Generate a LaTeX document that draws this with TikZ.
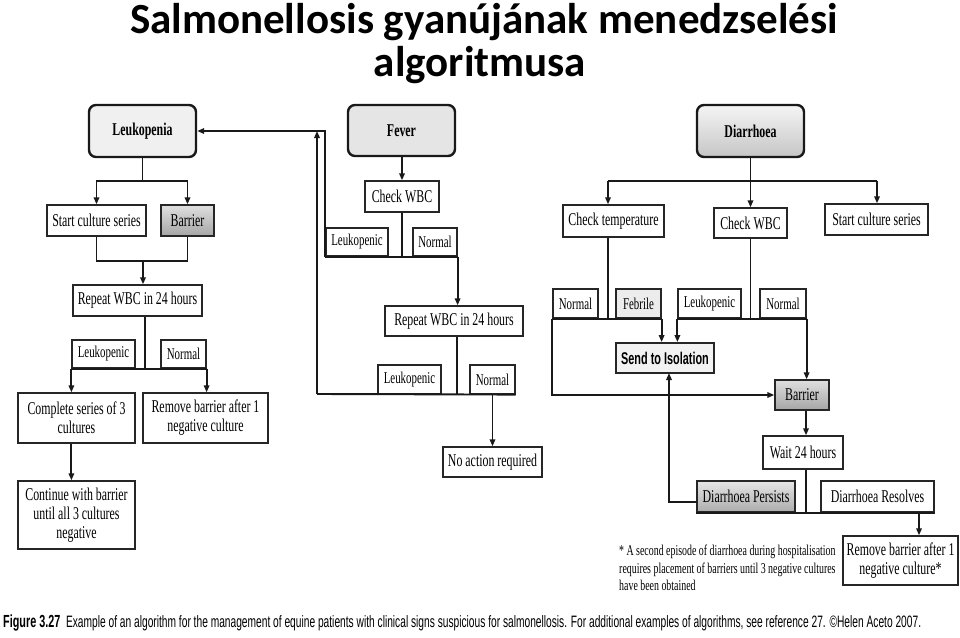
\documentclass[tikz,border=0pt]{standalone}
\usepackage{fontspec}
\usepackage{graphicx}
\usetikzlibrary{arrows.meta}
\newfontfamily\cond[FakeStretch=0.66]{Liberation Serif}
\newfontfamily\condsans[FakeStretch=0.64]{Liberation Sans}
\newfontfamily\capfont[FakeStretch=0.7]{Liberation Sans}
\newfontfamily\titlefont{Carlito}
\tikzset{
  box/.style={draw=black!85, line width=1.4, fill=white, inner sep=0, align=center,
    font=\cond\fontsize{18}{19}\selectfont},
  lbl/.style={draw=black!85, line width=1.2, fill=white, inner sep=0,
    font=\cond\fontsize{16.5}{17}\selectfont},
  hdr/.style={draw=black!90, line width=2.4, rounded corners=7, inner sep=0,
    font=\cond\bfseries\fontsize{18}{19}\selectfont},
  con/.style={draw=black!90, line width=1.9},
  arr/.style={con, -{Triangle[length=7pt,width=5.5pt]}},
}
\begin{document}
\begin{tikzpicture}[x=1pt,y=-1pt]
\useasboundingbox (0,0) rectangle (960,637);
% title
\node[font=\titlefont\bfseries\fontsize{43}{45}\selectfont, anchor=base] (title1) at (484,33) {Salmonellosis gyanújának menedzselési};
\node[font=\titlefont\bfseries\fontsize{43}{45}\selectfont, anchor=base] (title2) at (480,76) {algoritmusa};

% headers
\node[hdr, fill=gray!12, minimum width=107, minimum height=52] (leuk) at (142.5,131) {Leukopenia};
\node[hdr, fill=gray!20, minimum width=107, minimum height=51] (fever) at (401.5,130.5) {Fever};
\node[hdr, top color=gray!8, bottom color=gray!45, minimum width=107, minimum height=52] (diar) at (750.5,131) {Diarrhoea};

% left branch
\node[box, minimum width=99, minimum height=31] (sc1) at (96.5,220.5) {Start culture series};
\node[box, top color=gray!25, bottom color=gray!70, minimum width=53, minimum height=31] (bar1) at (187.5,220.5) {Barrier};
\node[box, minimum width=129, minimum height=31] (rw1) at (137.5,300.5) {Repeat WBC in 24 hours};
\node[lbl, minimum width=63, minimum height=28] (lk1) at (103.5,354) {Leukopenic};
\node[lbl, minimum width=45, minimum height=28] (nm1) at (183.5,354) {Normal};
\node[box, minimum width=117, minimum height=50] (cs) at (76.5,418) {Complete series of 3\\cultures};
\node[box, minimum width=125, minimum height=50] (rb1) at (205.5,418) {Remove barrier after 1\\negative culture};
\node[box, minimum width=117, minimum height=68] (cont) at (76.5,515) {Continue with barrier\\until all 3 cultures\\negative};

% fever branch
\node[box, minimum width=74, minimum height=31] (cw1) at (402,196.5) {Check WBC};
\node[lbl, minimum width=62, minimum height=28] (lk2) at (357,242) {Leukopenic};
\node[lbl, minimum width=44, minimum height=28] (nm2) at (435,242) {Normal};
\node[box, minimum width=138, minimum height=30] (rw2) at (454,321) {Repeat WBC in 24 hours};
\node[lbl, minimum width=63, minimum height=29] (lk3) at (409.5,379.5) {Leukopenic};
\node[lbl, minimum width=45, minimum height=29] (nm3) at (492.5,379.5) {Normal};
\node[box, minimum width=99, minimum height=30] (noact) at (492.5,462) {No action required};

% diarrhoea branch
\node[box, minimum width=101, minimum height=32] (ct) at (613.5,221) {Check temperature};
\node[box, minimum width=73, minimum height=30] (cw2) at (750.5,223) {Check WBC};
\node[box, minimum width=103, minimum height=31] (sc2) at (876.5,219.5) {Start culture series};
\node[lbl, minimum width=45, minimum height=29] (nm4) at (575.5,303.5) {Normal};
\node[lbl, fill=gray!15, minimum width=45, minimum height=29] (feb) at (638.5,303.5) {Febrile};
\node[lbl, minimum width=63, minimum height=29] (lk4) at (709.5,303.5) {Leukopenic};
\node[lbl, minimum width=46, minimum height=29] (nm5) at (783,303.5) {Normal};
\node[box, line width=1.9, fill=gray!10, font=\condsans\bfseries\fontsize{17}{18}\selectfont, minimum width=98, minimum height=30] (iso) at (665,358) {Send to Isolation};
\node[box, top color=gray!25, bottom color=gray!70, minimum width=54, minimum height=30] (bar2) at (802,395) {Barrier};
\node[box, minimum width=80, minimum height=33] (wait) at (803,452.5) {Wait 24 hours};
\node[box, top color=gray!20, bottom color=gray!65, minimum width=98, minimum height=31] (dp) at (746,496.5) {Diarrhoea Persists};
\node[box, minimum width=113, minimum height=31] (dr) at (877.5,496.5) {Diarrhoea Resolves};
\node[box, minimum width=115, minimum height=49] (rb2) at (900.5,560.5) {Remove barrier after 1\\negative culture*};

% junction coordinates
\coordinate (j1) at (142.5,181);
\coordinate (j2) at (143,261);
\coordinate (j3) at (145,368);
\coordinate (f1) at (402,256);
\coordinate (f2) at (457,394);
\coordinate (lp) at (317,394);
\coordinate (lpt) at (317,131);
\coordinate (d1) at (608,181);
\coordinate (d2) at (877,181);
\coordinate (t1) at (608,318);
\coordinate (w1) at (806,512);
\coordinate (w2) at (919,512);
\coordinate (isoin) at (669,373);
\coordinate (dpl) at (697,502);

% left connectors
\draw[con] (leuk.south) -- (j1);
\draw[arr] (j1) -| (sc1.north);
\draw[arr] (j1) -| (bar1.north);
\draw[con] (sc1.south) |- (j2) -| (bar1.south);
\draw[arr] (j2) -- (j2 |- rw1.north);
\draw[con] (j3 |- rw1.south) -- (j3);
\draw[con] (lk1.south west) -- (nm1.south east);
\draw[arr] (lk1.south west) -- (lk1.south west |- cs.north);
\draw[arr] (nm1.south east) -- (nm1.south east |- rb1.north);
\draw[arr] (cs.south -| lk1.south west) -- (cont.north -| lk1.south west);

% fever connectors
\draw[arr] (fever.south -| cw1.north) -- (cw1.north);
\draw[con] (cw1.south) -- (f1);
\draw[con] (lk2.south west) -- (nm2.south east);
\draw[arr] (lk2.south west) |- (leuk.east);
\draw[arr] (nm2.south east) -- (nm2.south east |- rw2.north);
\draw[con] (f2 |- rw2.south) -- (f2);
\draw[con] (lp) -- (nm3.south east);
\draw[arr] (lp) -- (lpt);
\draw[arr] (nm3.south) -- (noact.north);

% diarrhoea connectors
\draw[con] (d1) -- (d2);
\draw[arr] (diar.south) -- (cw2.north);
\draw[arr] (d1) -- (d1 |- ct.north);
\draw[arr] (d2) -- (d2 |- sc2.north);
\draw[con] (d1 |- ct.south) -- (t1);
\draw[con] (nm4.south west) -- (feb.south east);
\draw[arr] (feb.south east) -- (feb.south east |- iso.north);
\draw[arr] (nm4.south west) |- (bar2.west);
\draw[con] (cw2.south) -- (cw2.south |- lk4.south);
\draw[con] (lk4.south west) -- (nm5.south east);
\draw[arr] (lk4.south west) -- (lk4.south west |- iso.north);
\draw[arr] (nm5.south east) -- (nm5.south east |- bar2.north);
\draw[arr] (bar2.south -| w1) -- (wait.north -| w1);
\draw[con] (wait.south -| w1) -- (w1);
\draw[con] (dp.south west) -- (dr.south east);
\draw[arr] (w2) -- (w2 |- rb2.north);
\draw[arr] (dpl) -| (isoin);

% footnote
\node[anchor=north west, align=left, inner sep=0, font=\cond\fontsize{15}{17.5}\selectfont] (note) at (619,545)
  {* A second episode of diarrhoea during hospitalisation\\requires placement of barriers until 3 negative cultures\\have been obtained};

% caption
\node[anchor=base west, inner sep=0] (caption) at (3,627)
  {\resizebox{918pt}{\height}{\capfont\fontsize{16.5}{17}\selectfont\textbf{\fontsize{17.5}{17}\selectfont Figure 3.27}\ \ Example of an algorithm for the management of equine patients with clinical signs suspicious for salmonellosis. For additional examples of algorithms, see reference 27. ©Helen Aceto 2007.}};
\end{tikzpicture}
\end{document}
